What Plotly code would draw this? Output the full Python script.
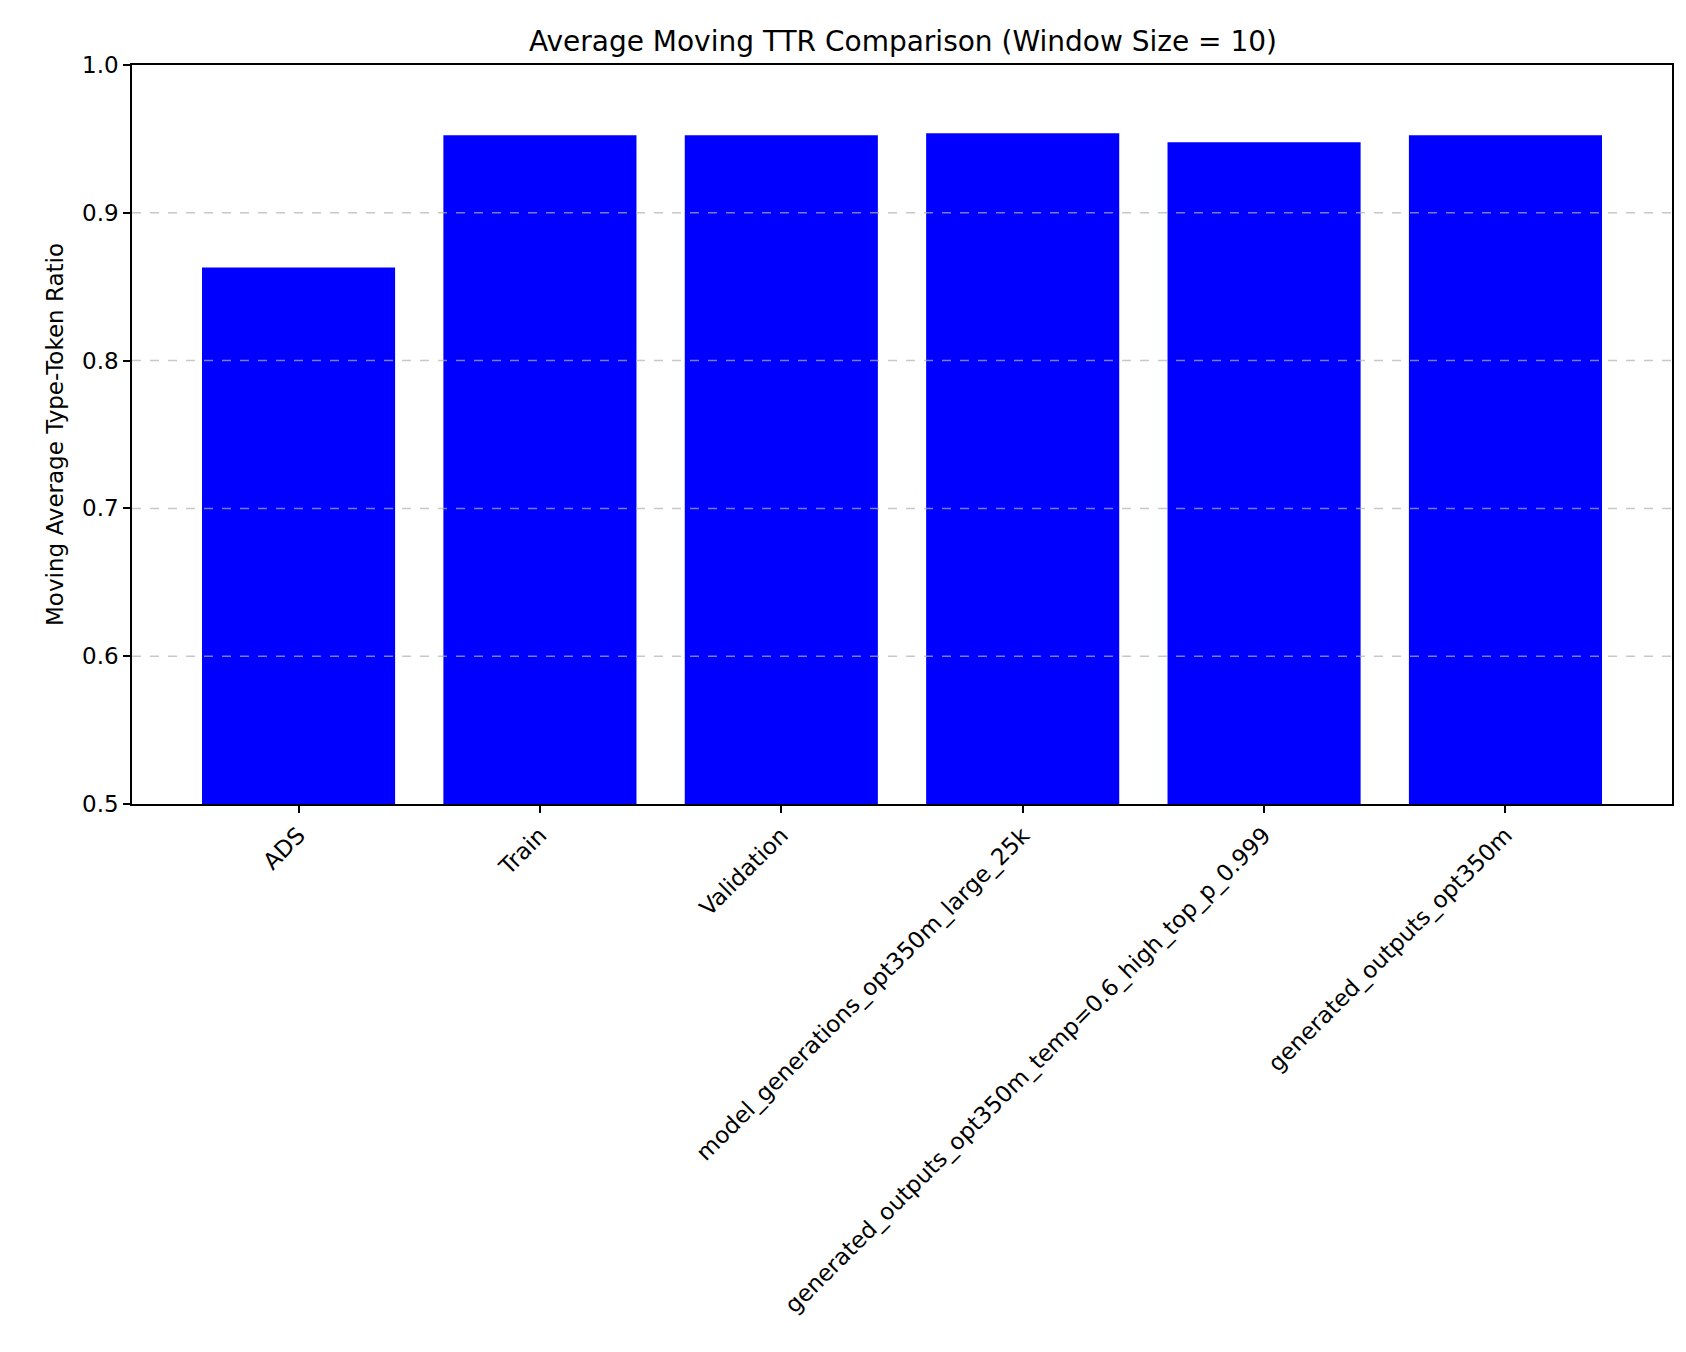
import plotly.graph_objects as go

# Data
datasets = [
    "ADS",
    "Train",
    "Validation",
    "model_generations_opt350m_large_25k",
    "generated_outputs_opt350m_temp=0.6_high_top_p_0.999",
    "generated_outputs_opt350m",
]
avg_ttr = [0.863, 0.9525, 0.9525, 0.9538, 0.9478, 0.9525]
grid_levels = [0.6, 0.7, 0.8, 0.9]

font_family = "DejaVu Sans"
# page body adds an 8px margin, so keep the figure a bit smaller than the window
W, H = 1670, 1330
left, right, top, bottom = 124, 4, 57, 534

fig = go.Figure()
fig.add_trace(go.Bar(
    x=list(range(len(datasets))),
    y=[v - 0.5 for v in avg_ttr],
    base=0.5,
    width=0.8,
    marker=dict(color="#0000ff", line=dict(width=0)),
    showlegend=False,
))

# dashed grid drawn on top of the bars, like the original
for g in grid_levels:
    fig.add_shape(type="line", xref="paper", yref="y", x0=0, x1=1, y0=g, y1=g,
                  line=dict(color="rgba(176,176,176,0.7)", width=1.5, dash="dash"),
                  layer="above")

fig.update_layout(
    width=W, height=H,
    margin=dict(l=left, r=right, t=top, b=bottom),
    paper_bgcolor="white", plot_bgcolor="white",
    font=dict(family=font_family, size=23, color="black"),
    title=dict(text="Average Moving TTR Comparison (Window Size = 10)",
               x=(left + (W - right - left) / 2) / W, xanchor="center",
               y=1 - 33 / H, yanchor="middle",
               font=dict(size=28, family=font_family)),
    xaxis=dict(
        range=[-0.69, 5.69],
        tickmode="array", tickvals=list(range(len(datasets))), ticktext=datasets,
        tickangle=-45, ticks="outside", ticklen=7, tickwidth=1.5, tickcolor="black",
        showline=True, linecolor="black", linewidth=1.5, mirror=True,
        showgrid=False, zeroline=False,
        tickfont=dict(size=23),
    ),
    yaxis=dict(
        range=[0.5, 1.0], dtick=0.1, tickformat=".1f",
        ticks="outside", ticklen=7, tickwidth=1.5, tickcolor="black",
        showline=True, linecolor="black", linewidth=1.5, mirror=True,
        showgrid=False, zeroline=False,
        title=dict(text="Moving Average Type-Token Ratio", font=dict(size=23), standoff=12),
        tickfont=dict(size=23),
    ),
)

fig.write_html("out.html")
